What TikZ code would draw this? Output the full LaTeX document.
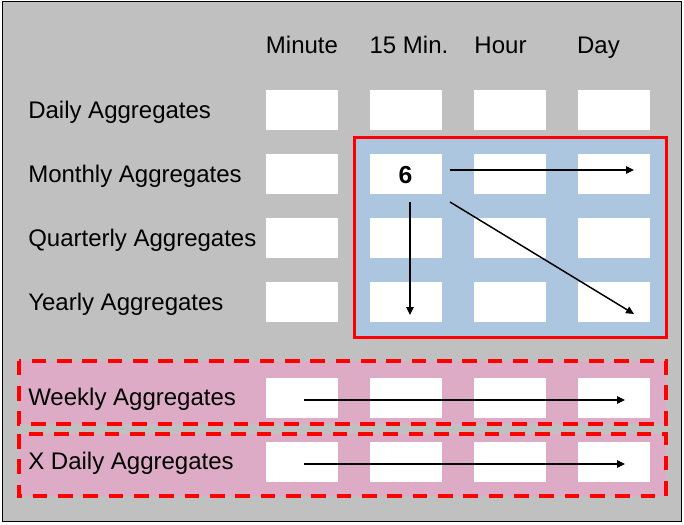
\documentclass[tikz,border=0pt]{standalone}
\usepackage{fontspec}
\setmainfont{Liberation Sans}
\usetikzlibrary{arrows.meta}
\definecolor{bggray}{RGB}{192,192,192}
\definecolor{boxblue}{RGB}{173,198,224}
\definecolor{boxpink}{RGB}{222,171,199}
\definecolor{boxred}{RGB}{255,0,0}
\tikzset{
  cell/.style={fill=white, draw=none, inner sep=0pt, minimum width=54pt, minimum height=30pt},
  rowlabel/.style={anchor=base west, inner sep=0pt, font=\fontsize{18}{21.6}\selectfont},
  collabel/.style={anchor=base, inner sep=0pt, font=\fontsize{18}{21.6}\selectfont},
  flow/.style={draw=black, line width=1.1pt, -{Triangle[length=6pt,width=5.5pt]}},
  groupbox/.style={fill=boxblue, draw=boxred, line width=2.6pt},
  dashbox/.style={fill=boxpink, draw=boxred, line width=3pt, dash pattern=on 11pt off 8pt}
}
\begin{document}
\begin{tikzpicture}[x=0.75pt,y=-0.75pt]
\useasboundingbox (0,0) rectangle (684,524);
\fill[white] (0,0) rectangle (684,524);
\draw[fill=bggray, draw=black, line width=0.75pt] (2,2) rectangle (681,521);
% boxes
\draw[groupbox] (354.5,137.5) rectangle (666.5,337.5);
\draw[dashbox] (18.5,360.5) rectangle (665.5,424);
\draw[dashbox] (18.5,434) rectangle (665.5,496);
% column headers
\node[collabel] (hMin) at (302,53.5) {Minute};
\node[collabel] (h15) at (409,53.5) {15 Min.};
\node[collabel] (hHour) at (500.5,53.5) {Hour};
\node[collabel] (hDay) at (598.5,53.5) {Day};
% cells
\foreach \r/\y in {1/110,2/174,3/238,4/302,5/398,6/462}{
  \foreach \c/\x in {1/302,2/406,3/510,4/614}{
    \node[cell] (c\r\c) at (\x,\y) {};
  }
}
% row labels
\node[rowlabel] (lDaily) at (28,118.3) {Daily Aggregates};
\node[rowlabel] (lMonthly) at (28,182.3) {Monthly Aggregates};
\node[rowlabel] (lQuarterly) at (28,246.3) {Quarterly Aggregates};
\node[rowlabel] (lYearly) at (28,310.3) {Yearly Aggregates};
\node[rowlabel] (lWeekly) at (28,405.5) {Weekly Aggregates};
\node[rowlabel] (lXDaily) at (28,469.5) {X Daily Aggregates};
% the 6
\node[anchor=base, inner sep=0pt, font=\fontsize{18.5}{22}\selectfont\bfseries] (six) at (405.5,183) {6};
% arrow end points
\coordinate (aHs) at (450,170);
\coordinate (aHe) at (634,170);
\coordinate (aVs) at (410,202);
\coordinate (aVe) at (410,315);
\coordinate (aDs) at (450,202);
\coordinate (aDe) at (634,314);
\coordinate (aWs) at (304,400);
\coordinate (aWe) at (625,400);
\coordinate (aXs) at (304,464);
\coordinate (aXe) at (625,464);
\draw[flow] (aHs) -- (aHe);
\draw[flow] (aVs) -- (aVe);
\draw[flow] (aDs) -- (aDe);
\draw[flow] (aWs) -- (aWe);
\draw[flow] (aXs) -- (aXe);
\end{tikzpicture}
\end{document}
